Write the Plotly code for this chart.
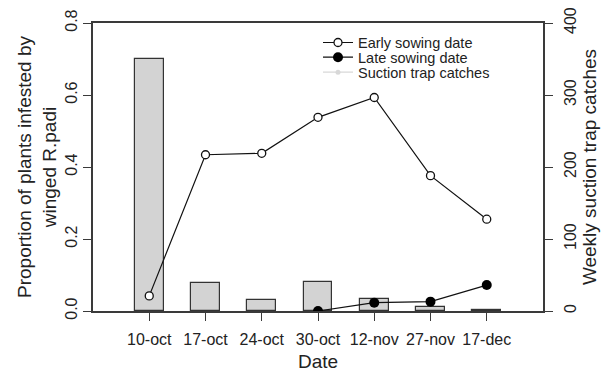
import plotly.graph_objects as go

dates = ["10-oct", "17-oct", "24-oct", "30-oct", "12-nov", "27-nov", "17-dec"]
trap_catches = [350, 39, 15, 40, 16, 6, 1]
early_sowing = [0.042, 0.434, 0.438, 0.538, 0.593, 0.376, 0.255]
late_sowing = [None, None, None, 0.0, 0.023, 0.026, 0.072]

FONT = "Liberation Sans, Arial, sans-serif"
AX = "#3a3a3a"

fig = go.Figure()
fig.add_trace(go.Bar(
    x=dates, y=trap_catches, yaxis="y", width=0.51,
    marker=dict(color="#d3d3d3", line=dict(color="#333333", width=1.2)),
    showlegend=False, name="Suction trap catches",
))
fig.add_trace(go.Scatter(
    x=dates, y=early_sowing, yaxis="y2", mode="lines+markers",
    name="Early sowing date", legend="legend",
    line=dict(color="#111111", width=1.2),
    marker=dict(symbol="circle", size=8, color="white", line=dict(color="#111111", width=1.3)),
))
fig.add_trace(go.Scatter(
    x=dates, y=late_sowing, yaxis="y2", mode="lines+markers",
    name="Late sowing date", legend="legend2",
    line=dict(color="#111111", width=1.2),
    marker=dict(symbol="circle", size=10, color="#000000"),
))
fig.add_trace(go.Scatter(
    x=[None], y=[None], yaxis="y2", mode="lines+markers",
    name="Suction trap catches", legend="legend3",
    line=dict(color="#d8d8d8", width=1.2),
    marker=dict(symbol="circle", size=5, color="#d8d8d8"),
))

def leg(y):
    return dict(
        x=0.50, y=y, xanchor="left", yanchor="middle",
        bgcolor="rgba(0,0,0,0)", font=dict(size=14.5, color="#222222"),
        borderwidth=0,
    )

fig.update_layout(
    width=606, height=375,
    margin=dict(l=93, r=63, t=23, b=64),
    paper_bgcolor="white", plot_bgcolor="white",
    font=dict(family=FONT, size=16, color="#222222"),
    bargap=0,
    xaxis=dict(
        type="category", range=[-1, 7], automargin=False,
        showline=True, linecolor=AX, linewidth=1.5, mirror=True,
        ticks="outside", ticklen=8, tickcolor=AX, tickwidth=1.2,
        ticklabelstandoff=5,
        showgrid=False, zeroline=False,
        title=dict(text="Date", font=dict(size=19), standoff=8),
        tickfont=dict(size=16),
    ),
    yaxis=dict(
        side="right", range=[0, 400], tickvals=[0, 100, 200, 300, 400],
        automargin=False,
        showline=True, linecolor=AX, linewidth=1.5,
        ticks="outside", ticklen=8, tickcolor=AX, tickwidth=1.2,
        ticklabelstandoff=4,
        tickangle=-90, showgrid=False, zeroline=False,
        title=dict(text="Weekly suction trap catches", font=dict(size=19), standoff=1),
        tickfont=dict(size=16),
    ),
    yaxis2=dict(
        side="left", overlaying="y", range=[0, 0.8],
        tickvals=[0, 0.2, 0.4, 0.6, 0.8], tickformat=".1f",
        automargin=False,
        showline=True, linecolor=AX, linewidth=1.5,
        ticks="outside", ticklen=8, tickcolor=AX, tickwidth=1.2,
        tickangle=-90, showgrid=False, zeroline=False,
        title=dict(text="Proportion of plants infested by<br>winged R.padi", font=dict(size=19), standoff=1),
        tickfont=dict(size=16),
    ),
    legend=leg(0.932),
    legend2=leg(0.881),
    legend3=leg(0.829),
)

fig.write_html("out.html")
